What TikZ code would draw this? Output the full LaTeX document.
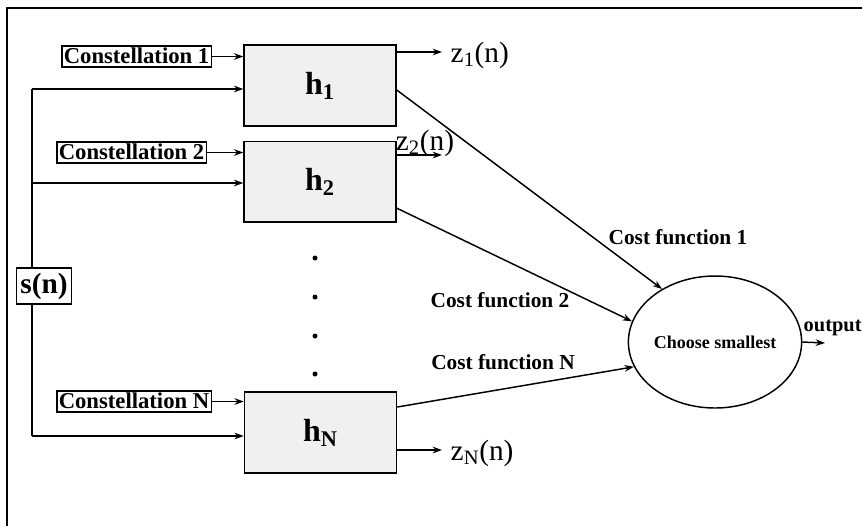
\documentclass[tikz,border=0pt]{standalone}
\usepackage{fontspec}
\setmainfont{Liberation Serif}
\usetikzlibrary{arrows.meta,positioning,calc,shapes.geometric}
\tikzset{
  cst/.style={draw,fill=white,inner sep=1.5pt,text height=11.5pt,text depth=1pt,
              font=\fontsize{17}{17}\selectfont\bfseries},
  filt/.style={draw,fill=gray!12,minimum width=114pt,minimum height=60.5pt,
               font=\fontsize{24}{24}\selectfont\bfseries},
  sel/.style={ellipse,draw,minimum width=117pt,minimum height=99pt,inner sep=0pt,
              font=\fontsize{13.5}{14}\selectfont\bfseries},
  sig/.style={-{Stealth[length=7pt,width=5pt]},line width=1.1pt},
  lbl/.style={font=\fontsize{16}{16}\selectfont\bfseries,inner sep=0pt},
  zlbl/.style={font=\fontsize{22}{22}\selectfont,inner sep=0pt},
}

\begin{document}
\begin{tikzpicture}[x=0.75pt,y=-0.75pt,line width=1.1pt]
    \useasboundingbox (0,0) rectangle (862,526);
    \draw (7,526) -- (7,8) -- (862,8);

    % filter bank
    \node[filt] (h1) at (320,85.5) {h\textsubscript{1}};
    \node[filt,below=10.5pt of h1] (h2) {h\textsubscript{2}};
    \node[filt] (hN) at (320.5,432.5) {h\textsubscript{N}};

    \node[cst,anchor=east] (c1) at (212,56.5) {Constellation 1};
    \node[cst,anchor=east] (c2) at (207,152.5) {Constellation 2};
    \node[cst,anchor=east] (cN) at (212,401.5) {Constellation N};
    \draw[sig] (c1.east) -- (c1.east -| h1.west);
    \draw[sig] (c2.east) -- (c2.east -| h2.west);
    \draw[sig] (cN.east) -- (cN.east -| hN.west);

    % input bus
    \coordinate (b1) at (32,89);
    \coordinate (b2) at (32,183);
    \coordinate (bN) at (32,436);
    \draw (b1) -- (bN);
    \draw[sig] (b1) -- (b1 -| h1.west);
    \draw[sig] (b2) -- (b2 -| h2.west);
    \draw[sig] (bN) -- (bN -| hN.west);
    \node[draw,fill=white,inner sep=3pt,minimum height=27pt,
          font=\fontsize{22}{22}\selectfont\bfseries] (sn) at (44,286) {s(n)};

    \foreach \y in {258,297,336,374}
      \fill (315,\y) circle (2.5);

    % outputs
    \node[zlbl,anchor=west] (z1) at (450,55) {z\textsubscript{1}(n)};
    \node[zlbl] (z2) at (425,143) {z\textsubscript{2}(n)};
    \node[zlbl,anchor=west] (zN) at (450,453) {z\textsubscript{N}(n)};
    \coordinate (e1) at (442,52);
    \coordinate (e2) at (442,155);
    \coordinate (eN) at (442,450);
    \draw[sig] (e1 -| h1.east) -- (e1);
    \draw[sig] (e2 -| h2.east) -- (e2);
    \draw[sig] (eN -| hN.east) -- (eN);

    % decision
    \node[sel] (cs) at (715,342) {Choose smallest};
    \draw[sig] ($(h1.east)+(0,4.5)$) -- (cs.135);
    \draw[sig] ($(h2.east)+(0,26.5)$) -- (cs.166);
    \draw[sig] ($(hN.east)+(0,-25.5)$) -- (cs.197);
    \node[lbl] (cf1) at (678,237) {Cost function 1};
    \node[lbl] (cf2) at (500,300) {Cost function 2};
    \node[lbl] (cfN) at (503,362) {Cost function N};

    \node[lbl,font=\fontsize{15.3}{16}\selectfont\bfseries,anchor=west] (out) at (803,328) {output};
    \coordinate (oe) at (825,343);
    \draw[sig] (cs.east) -- (oe);
\end{tikzpicture}
\end{document}
